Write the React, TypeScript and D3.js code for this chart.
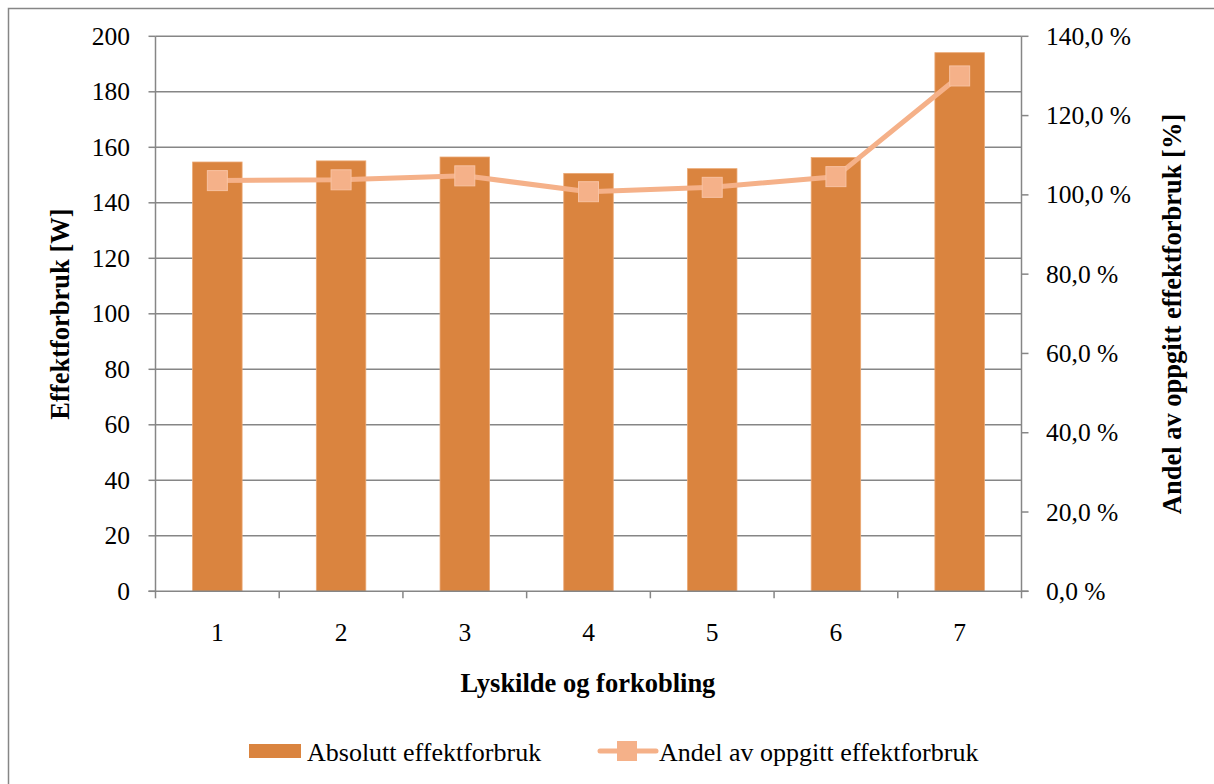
import React from "react";
import * as d3 from "d3";

const categories = ["1", "2", "3", "4", "5", "6", "7"];
const absoluteWatts = [154.7, 155.1, 156.5, 150.6, 152.3, 156.3, 194.1];
const shareOfRated = [103.6, 103.8, 104.8, 100.8, 101.9, 104.6, 130.0];
const leftTicks = [0, 20, 40, 60, 80, 100, 120, 140, 160, 180, 200];
const rightTicks = [0, 20, 40, 60, 80, 100, 120, 140];

const W = 1214;
const H = 784;
const plot = { left: 155.5, right: 1021.5, top: 36.3, bottom: 591.3 };
const barColor = "#DA843F";
const lineColor = "#F5B189";
const axisColor = "#868686";
const font = "'Liberation Serif', 'Times New Roman', serif";
const tickSize = 25.5;
const titleSize = 26.5;

export default function App() {
  const x = d3
    .scaleBand<string>()
    .domain(categories)
    .range([plot.left, plot.right])
    .paddingInner(0.6)
    .paddingOuter(0.3);
  const xOuter = d3.scaleBand<string>().domain(categories).range([plot.left, plot.right]);
  const yL = d3.scaleLinear().domain([0, 200]).range([plot.bottom, plot.top]);
  const yR = d3.scaleLinear().domain([0, 140]).range([plot.bottom, plot.top]);

  const center = (c: string) => (xOuter(c) as number) + xOuter.bandwidth() / 2;
  const line = d3
    .line<number>()
    .x((_, i) => center(categories[i]))
    .y((d) => yR(d));

  const boundaries = categories.map((c) => xOuter(c) as number).concat([plot.right]);
  const fmtPct = (v: number) => v.toFixed(1).replace(".", ",") + " %";

  return (
    <svg
      width={W}
      height={H}
      style={{ position: "absolute", left: 0, top: 0, fontFamily: font }}
    >
      <rect x={0} y={0} width={W} height={H} fill="#fff" />
      <rect x={8.5} y={8.5} width={W + 10} height={H + 10} fill="none" stroke={axisColor} strokeWidth={1.5} />

      {/* gridlines */}
      {leftTicks.slice(1).map((t) => (
        <line key={t} x1={plot.left} x2={plot.right} y1={yL(t)} y2={yL(t)} stroke={axisColor} strokeWidth={1.5} />
      ))}

      {/* bars */}
      {absoluteWatts.map((v, i) => (
        <rect
          key={i}
          x={x(categories[i])}
          y={yL(v)}
          width={x.bandwidth()}
          height={yL(0) - yL(v)}
          fill={barColor}
          stroke="#EBA874"
          strokeWidth={0.8}
        />
      ))}

      {/* axes */}
      <line x1={plot.left} x2={plot.left} y1={plot.top} y2={plot.bottom} stroke={axisColor} strokeWidth={1.5} />
      <line x1={plot.right} x2={plot.right} y1={plot.top} y2={plot.bottom} stroke={axisColor} strokeWidth={1.5} />
      <line x1={plot.left - 7} x2={plot.right + 7} y1={plot.bottom} y2={plot.bottom} stroke={axisColor} strokeWidth={1.5} />
      {leftTicks.map((t) => (
        <line key={t} x1={plot.left - 7} x2={plot.left} y1={yL(t)} y2={yL(t)} stroke={axisColor} strokeWidth={1.5} />
      ))}
      {rightTicks.map((t) => (
        <line key={t} x1={plot.right} x2={plot.right + 7} y1={yR(t)} y2={yR(t)} stroke={axisColor} strokeWidth={1.5} />
      ))}
      {boundaries.map((b, i) => (
        <line key={i} x1={b} x2={b} y1={plot.bottom} y2={plot.bottom + 7} stroke={axisColor} strokeWidth={1.5} />
      ))}

      {/* line series */}
      <path d={line(shareOfRated) || ""} fill="none" stroke={lineColor} strokeWidth={5} strokeLinejoin="round" />
      {shareOfRated.map((v, i) => (
        <rect
          key={i}
          x={center(categories[i]) - 10}
          y={yR(v) - 10}
          width={20}
          height={20}
          fill={lineColor}
          stroke="#F8C2A2"
          strokeWidth={1}
        />
      ))}

      {/* tick labels */}
      {leftTicks.map((t) => (
        <text key={t} x={130} y={yL(t) + 8.5} textAnchor="end" fontSize={tickSize}>
          {t}
        </text>
      ))}
      {rightTicks.map((t) => (
        <text key={t} x={1046} y={yR(t) + 8.5} textAnchor="start" fontSize={tickSize}>
          {fmtPct(t)}
        </text>
      ))}
      {categories.map((c) => (
        <text key={c} x={center(c)} y={641} textAnchor="middle" fontSize={tickSize}>
          {c}
        </text>
      ))}

      {/* axis titles */}
      <text x={588} y={692} textAnchor="middle" fontSize={titleSize} fontWeight="bold">
        Lyskilde og forkobling
      </text>
      <text transform="translate(69,314) rotate(-90)" textAnchor="middle" fontSize={titleSize} fontWeight="bold">
        Effektforbruk [W]
      </text>
      <text transform="translate(1181,314) rotate(-90)" textAnchor="middle" fontSize={titleSize} fontWeight="bold">
        Andel av oppgitt effektforbruk [%]
      </text>

      {/* legend */}
      <rect x={249} y={744} width={52} height={14} fill={barColor} />
      <text x={307} y={761} fontSize={26}>
        Absolutt effektforbruk
      </text>
      <line x1={600} x2={656} y1={751} y2={751} stroke={lineColor} strokeWidth={5} strokeLinecap="round" />
      <rect x={617} y={741} width={20} height={20} fill={lineColor} />
      <text x={659} y={761} fontSize={26}>
        Andel av oppgitt effektforbruk
      </text>
    </svg>
  );
}
